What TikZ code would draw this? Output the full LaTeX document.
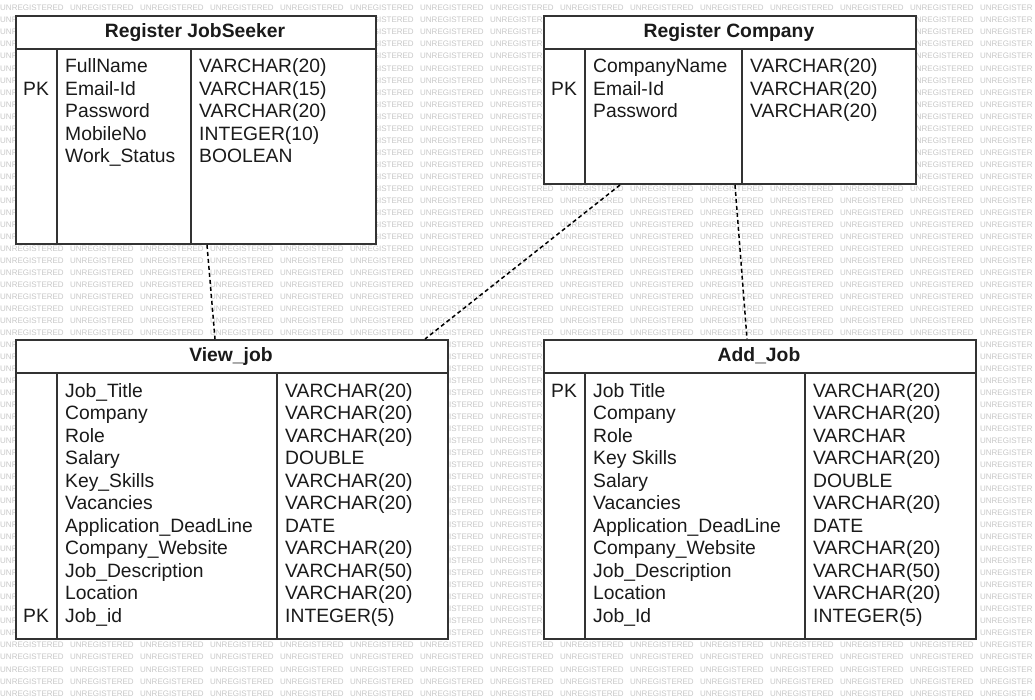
\documentclass[tikz,border=0pt]{standalone}
\usepackage{fontspec}
\setmainfont{Liberation Sans}
\usetikzlibrary{calc}
\definecolor{wm}{HTML}{C8C8C8}
\definecolor{bord}{HTML}{333333}
\definecolor{txt}{HTML}{1A1A1A}
\newcommand\wmu{\makebox[70pt][l]{UNREGISTERED}}
\newcommand\wmrow{\wmu\wmu\wmu\wmu\wmu\wmu\wmu\wmu\wmu\wmu\wmu\wmu\wmu\wmu UNREGISTER}
\newcommand\tabrows[4]{\foreach \t [count=\i] in {#4}{\node[cell] (#1\i) at (#2,{#3+22.5*(\i-1)}) {\t};}}
\begin{document}
\begin{tikzpicture}[x=1pt,y=-1pt,
  box/.style={draw=bord,line width=2pt,fill=white,inner sep=0pt,anchor=north west},
  ttl/.style={font=\fontsize{19.3}{22.5}\selectfont\bfseries,anchor=base,inner sep=0pt,text=txt},
  cell/.style={font=\fontsize{19.3}{22.5}\selectfont,anchor=base west,inner sep=0pt,text=txt},
  div/.style={draw=bord,line width=2pt},
  link/.style={draw=black,line width=1.5pt,dash pattern=on 4pt off 3pt},
  wmk/.style={font=\fontsize{8}{8}\selectfont,text=wm,anchor=base west,inner sep=0pt}]
\useasboundingbox (0,0) rectangle (1035,699);
\fill[white] (0,0) rectangle (1035,699);
% watermark
\begin{scope}
\clip (0,0) rectangle (1035,699);
\foreach \k in {0,...,57}{\node[wmk] (wm\k) at (0,{10.9+12.02*\k}) {\wmrow};}
\end{scope}
% Register JobSeeker
\node[box,minimum width=360pt,minimum height=228pt] (js) at (15,15) {};
\draw[div] (15,49) -- (375,49);
\draw[div] (57,49) -- (57,243);
\draw[div] (191,49) -- (191,243);
\node[ttl] (jst) at (195,37.8) {Register JobSeeker};
\node[cell] (jspk) at (23,95) {PK};
\tabrows{jsa}{65}{72.5}{FullName,Email-Id,Password,MobileNo,Work\_Status}
\tabrows{jsb}{199}{72.5}{{VARCHAR(20)},{VARCHAR(15)},{VARCHAR(20)},{INTEGER(10)},BOOLEAN}
% Register Company
\node[box,minimum width=372pt,minimum height=168pt] (rc) at (543,15) {};
\draw[div] (543,49) -- (915,49);
\draw[div] (585,49) -- (585,183);
\draw[div] (742,49) -- (742,183);
\node[ttl] (rct) at (729,37.8) {Register Company};
\node[cell] (rcpk) at (551,95) {PK};
\tabrows{rca}{593}{72.5}{CompanyName,Email-Id,Password}
\tabrows{rcb}{750}{72.5}{{VARCHAR(20)},{VARCHAR(20)},{VARCHAR(20)}}
% View_job
\node[box,minimum width=432pt,minimum height=299pt] (vj) at (15,339) {};
\draw[div] (15,373) -- (447,373);
\draw[div] (57,373) -- (57,638);
\draw[div] (277,373) -- (277,638);
\node[ttl] (vjt) at (231,361.7) {View\_job};
\node[cell] (vjpk) at (23,622) {PK};
\tabrows{vja}{65}{397}{Job\_Title,Company,Role,Salary,Key\_Skills,Vacancies,Application\_DeadLine,Company\_Website,Job\_Description,Location,Job\_id}
\tabrows{vjb}{285}{397}{{VARCHAR(20)},{VARCHAR(20)},{VARCHAR(20)},DOUBLE,{VARCHAR(20)},{VARCHAR(20)},DATE,{VARCHAR(20)},{VARCHAR(50)},{VARCHAR(20)},{INTEGER(5)}}
% Add_Job
\node[box,minimum width=432pt,minimum height=299pt] (aj) at (543,339) {};
\draw[div] (543,373) -- (975,373);
\draw[div] (585,373) -- (585,638);
\draw[div] (805,373) -- (805,638);
\node[ttl] (ajt) at (759,361.7) {Add\_Job};
\node[cell] (ajpk) at (551,397) {PK};
\tabrows{aja}{593}{397}{Job Title,Company,Role,Key Skills,Salary,Vacancies,Application\_DeadLine,Company\_Website,Job\_Description,Location,Job\_Id}
\tabrows{ajb}{813}{397}{{VARCHAR(20)},{VARCHAR(20)},VARCHAR,{VARCHAR(20)},DOUBLE,{VARCHAR(20)},DATE,{VARCHAR(20)},{VARCHAR(50)},{VARCHAR(20)},{INTEGER(5)}}
% connectors
\draw[link] ([xshift=192pt]js.south west) -- ([xshift=200pt]vj.north west);
\draw[link] ([xshift=77pt]rc.south west) -- ([xshift=410pt]vj.north west);
\draw[link] ([xshift=192pt]rc.south west) -- ([xshift=204pt]aj.north west);
\end{tikzpicture}
\end{document}
